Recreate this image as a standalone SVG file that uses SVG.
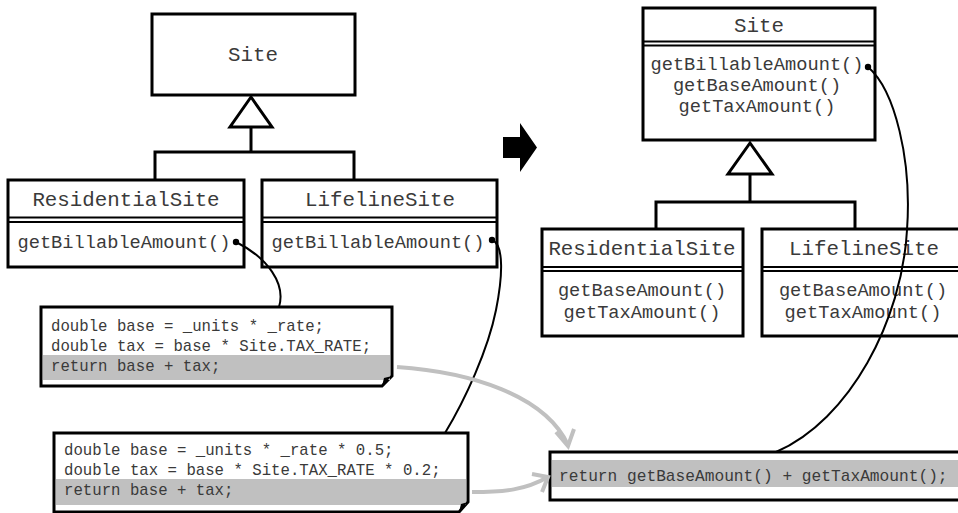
<svg xmlns="http://www.w3.org/2000/svg" width="958" height="513" viewBox="0 0 958 513">
<style>
.box{fill:#fff;stroke:#000;stroke-width:3}
.sep{stroke:#000;stroke-width:2.2}
.t{font-family:"Liberation Mono","Courier New",monospace;fill:#3a3a3a;text-anchor:middle}
.ti{font-size:20.8px}
.me{font-size:18.7px}
.code{font-family:"Liberation Mono","Courier New",monospace;fill:#3a3a3a;font-size:15.7px}
.hl{fill:#c0c0c0}
.inh{fill:none;stroke:#000;stroke-width:3}
.tri{fill:#fff;stroke:#000;stroke-width:3}
.link{fill:none;stroke:#000;stroke-width:2}
.gray{fill:none;stroke:#c0c0c0;stroke-width:4}
</style>
<rect width="958" height="513" fill="#fff"/>

<g id="site-left">
<rect class="box" x="152" y="14" width="203" height="81"/>
<text class="t ti" x="253" y="61">Site</text>
</g>

<g id="residential-left">
<rect class="box" x="8" y="180" width="236" height="87"/>
<line class="sep" x1="8" y1="217.5" x2="244" y2="217.5"/>
<line class="sep" x1="8" y1="222" x2="244" y2="222"/>
<text class="t ti" x="126" y="206">ResidentialSite</text>
<text class="t me" x="124" y="248">getBillableAmount()</text>
</g>

<g id="lifeline-left">
<rect class="box" x="262" y="180" width="235" height="87"/>
<line class="sep" x1="262" y1="217.5" x2="497" y2="217.5"/>
<line class="sep" x1="262" y1="222" x2="497" y2="222"/>
<text class="t ti" x="380" y="206">LifelineSite</text>
<text class="t me" x="378" y="248">getBillableAmount()</text>
</g>

<g id="code-residential">
<path class="box" d="M41,307 H392 V376 L382,386 H41 Z"/>
<rect class="hl" x="43" y="355" width="347" height="25"/>
<path d="M382,386 L384,378 L392,376 Z" fill="#000"/>
<text class="code" x="51" y="331">double base = _units * _rate;</text>
<text class="code" x="51" y="351">double tax = base * Site.TAX_RATE;</text>
<text class="code" x="51" y="371">return base + tax;</text>
</g>

<g id="code-lifeline">
<path class="box" d="M54,433 H468 V502 L459,512 H54 Z"/>
<rect class="hl" x="56" y="479" width="410" height="26"/>
<path d="M459,512 L461,504 L468,502 Z" fill="#000"/>
<text class="code" x="64" y="455">double base = _units * _rate * 0.5;</text>
<text class="code" x="64" y="475">double tax = base * Site.TAX_RATE * 0.2;</text>
<text class="code" x="64" y="495">return base + tax;</text>
</g>

<g id="refactor-arrow">
<path d="M503,137 H520 V123 L537,147.5 L520,172 V158 H503 Z" fill="#000"/>
</g>

<g id="site-right">
<rect class="box" x="643" y="8" width="232" height="132"/>
<line class="sep" x1="643" y1="41.5" x2="875" y2="41.5"/>
<line class="sep" x1="643" y1="45.5" x2="875" y2="45.5"/>
<text class="t ti" x="759" y="32">Site</text>
<text class="t me" x="757" y="70">getBillableAmount()</text>
<text class="t me" x="757" y="91">getBaseAmount()</text>
<text class="t me" x="757" y="112">getTaxAmount()</text>
</g>

<g id="residential-right">
<rect class="box" x="542" y="229" width="201" height="107"/>
<line class="sep" x1="542" y1="267" x2="743" y2="267"/>
<line class="sep" x1="542" y1="271" x2="743" y2="271"/>
<text class="t ti" x="642" y="255">ResidentialSite</text>
<text class="t me" x="642" y="296">getBaseAmount()</text>
<text class="t me" x="642" y="318">getTaxAmount()</text>
</g>

<g id="lifeline-right">
<rect class="box" x="762" y="229" width="204" height="107"/>
<line class="sep" x1="762" y1="267" x2="966" y2="267"/>
<line class="sep" x1="762" y1="271" x2="966" y2="271"/>
<text class="t ti" x="864" y="255">LifelineSite</text>
<text class="t me" x="863" y="296">getBaseAmount()</text>
<text class="t me" x="863" y="318">getTaxAmount()</text>
</g>

<g id="code-site">
<rect class="box" x="550" y="452" width="415" height="48"/>
<rect class="hl" x="552" y="460" width="412" height="27"/>
<text class="code" style="font-size:16.2px" x="559" y="481">return getBaseAmount() + getTaxAmount();</text>
</g>

<g id="connectors">
<polyline class="inh" points="251,127 251,152"/>
<polyline class="inh" points="155,180 155,152 354,152 354,180"/>
<polygon class="tri" points="251,97 230,127 272,127"/>
<polyline class="inh" points="750,174 750,202"/>
<polyline class="inh" points="656,229 656,202 855,202 855,229"/>
<polygon class="tri" points="750,143 728,174 772,174"/>

<circle cx="236" cy="242" r="3.2" fill="#000"/>
<path class="link" d="M236,242 C268,258 286,284 279,307"/>
<circle cx="492" cy="240" r="3.2" fill="#000"/>
<path class="link" d="M492,240 C505,245 502,280 496,310 C488,350 465,400 445,433"/>
<circle cx="868" cy="67" r="3.2" fill="#000"/>
<path class="link" d="M868,67 C895,90 912,160 907,230 C902,320 850,420 776,452"/>

<path class="gray" d="M397,367 C470,372 545,395 568,445"/>
<path class="gray" d="M556,432 L568,446 L574,429"/>
<path class="gray" d="M472,492 C505,492 525,490 548,477"/>
<path class="gray" d="M532,474 L548,477 L542,492"/>
</g>
</svg>
